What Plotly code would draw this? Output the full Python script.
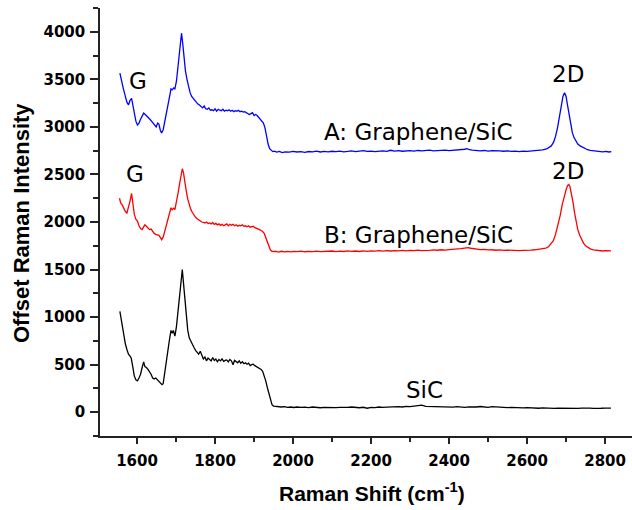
import plotly.graph_objects as go

# Raman spectra (offset) — wavenumber in cm^-1, intensity in counts
sic_x = [1556, 1560, 1565, 1570, 1574, 1578, 1582, 1585, 1589, 1593, 1597, 1601, 1605, 1609, 1613, 1617,
         1620, 1624, 1628, 1632, 1636, 1640, 1644, 1648, 1652, 1656, 1660, 1664, 1667, 1671, 1675, 1679,
         1683, 1687, 1690, 1693, 1697, 1701, 1705, 1709, 1713, 1716, 1719, 1722, 1726, 1730, 1734, 1738,
         1742, 1746, 1750, 1754, 1758, 1762, 1766, 1770, 1774, 1778, 1782, 1786, 1790, 1794, 1798, 1802,
         1806, 1810, 1814, 1818, 1822, 1826, 1830, 1834, 1838, 1842, 1846, 1850, 1854, 1858, 1862, 1866,
         1870, 1874, 1878, 1882, 1886, 1890, 1894, 1898, 1902, 1906, 1910, 1914, 1918, 1922, 1926, 1930,
         1934, 1938, 1942, 1946, 1950, 1956, 1962, 1970, 1978, 1986, 1994, 2002, 2010, 2020, 2030, 2040,
         2050, 2060, 2070, 2080, 2090, 2100, 2110, 2120, 2130, 2140, 2150, 2160, 2170, 2180, 2190, 2200,
         2210, 2220, 2230, 2240, 2250, 2260, 2270, 2280, 2290, 2300, 2310, 2320, 2330, 2340, 2350, 2360,
         2370, 2380, 2390, 2400, 2410, 2420, 2430, 2440, 2450, 2460, 2470, 2480, 2490, 2500, 2510, 2520,
         2530, 2540, 2550, 2560, 2570, 2580, 2590, 2600, 2610, 2620, 2630, 2640, 2650, 2660, 2670, 2680,
         2690, 2700, 2710, 2720, 2730, 2740, 2750, 2760, 2770, 2780, 2790, 2800, 2810, 2815]
sic_y = [1060, 950, 840, 720, 660, 610, 590, 570, 480, 380, 340, 330, 360, 400, 470, 530,
         480, 470, 450, 430, 400, 360, 350, 360, 340, 330, 310, 290, 300, 420, 560, 650,
         760, 860, 830, 860, 800, 900, 1050, 1200, 1380, 1500, 1360, 1200, 1000, 860, 780, 740,
         700, 680, 650, 630, 610, 640, 600, 560, 580, 540, 570, 555, 540, 575, 545, 560,
         530, 555, 540, 560, 535, 545, 550, 530, 555, 540, 500, 545, 530, 520, 540, 515,
         530, 510, 520, 505, 515, 490, 500, 505, 490, 480, 470, 460, 450, 430, 390, 330,
         260, 190, 120, 80, 65, 60, 62, 55, 58, 52, 55, 50, 55, 50, 53, 48,
         55, 50, 47, 52, 50, 54, 49, 52, 48, 51, 55, 50, 47, 52, 42, 50,
         48, 55, 50, 53, 56, 52, 58, 55, 62, 58, 65, 68, 75, 62, 60, 63,
         58, 60, 55, 57, 54, 58, 55, 50, 56, 52, 55, 60, 55, 52, 58, 55,
         50, 53, 48, 52, 47, 50, 45, 48, 44, 47, 42, 46, 43, 45, 40, 44,
         42, 45, 40, 43, 41, 44, 40, 43, 41, 45, 42, 44, 41, 43]

a_x = [1556, 1560, 1565, 1570, 1574, 1578, 1582, 1586, 1589, 1593, 1597, 1601, 1605, 1609, 1613, 1617,
       1621, 1625, 1629, 1633, 1637, 1641, 1645, 1649, 1653, 1656, 1660, 1663, 1667, 1671, 1675, 1679,
       1683, 1687, 1690, 1694, 1697, 1701, 1705, 1709, 1712, 1714, 1717, 1720, 1724, 1728, 1732, 1736,
       1740, 1744, 1748, 1752, 1756, 1760, 1764, 1768, 1772, 1776, 1780, 1784, 1788, 1792, 1796, 1800,
       1804, 1808, 1812, 1816, 1820, 1824, 1828, 1832, 1836, 1840, 1844, 1848, 1852, 1856, 1860, 1864,
       1868, 1872, 1876, 1880, 1884, 1888, 1892, 1896, 1900, 1904, 1908, 1912, 1916, 1920, 1924, 1928,
       1932, 1936, 1940, 1944, 1948, 1952, 1958, 1965, 1972, 1980, 1990, 2000, 2010, 2020, 2030, 2040,
       2050, 2060, 2070, 2080, 2090, 2100, 2110, 2120, 2130, 2140, 2150, 2160, 2170, 2180, 2190, 2200,
       2210, 2220, 2230, 2240, 2250, 2260, 2270, 2280, 2290, 2300, 2310, 2320, 2330, 2340, 2350, 2360,
       2370, 2380, 2390, 2400, 2410, 2420, 2430, 2440, 2446, 2452, 2460, 2470, 2480, 2490, 2500, 2510,
       2520, 2530, 2540, 2550, 2560, 2570, 2580, 2590, 2600, 2610, 2620, 2630, 2640, 2650, 2656, 2662,
       2668, 2673, 2678, 2683, 2688, 2692, 2696, 2700, 2704, 2708, 2712, 2716, 2720, 2725, 2730, 2736,
       2742, 2748, 2755, 2762, 2770, 2778, 2786, 2794, 2802, 2810, 2816]
a_y = [3565, 3480, 3400, 3320, 3260, 3230, 3280, 3300, 3240, 3130, 3060, 3020, 3040, 3080, 3120, 3145,
       3130, 3115, 3105, 3080, 3060, 3040, 3010, 3000, 3040, 3030, 2960, 2935, 2970, 3050, 3120, 3200,
       3310, 3400, 3390, 3410, 3400, 3480, 3620, 3780, 3900, 3985, 3880, 3720, 3590, 3500, 3420, 3360,
       3320, 3300, 3270, 3250, 3240, 3230, 3215, 3200, 3220, 3190, 3185, 3200, 3175, 3180, 3170, 3190,
       3165, 3185, 3175, 3170, 3185, 3165, 3175, 3170, 3180, 3165, 3175, 3160, 3170, 3165, 3175, 3160,
       3165, 3155, 3160, 3150, 3145, 3130, 3140, 3150, 3120, 3130, 3120, 3100, 3080, 3060, 3040, 2990,
       2900, 2820, 2770, 2750, 2740, 2745, 2735, 2742, 2730, 2738, 2735, 2742, 2736, 2740, 2733, 2741,
       2738, 2745, 2736, 2742, 2738, 2744, 2740, 2746, 2738, 2742, 2748, 2740, 2744, 2750, 2742, 2746,
       2740, 2745, 2748, 2742, 2754, 2746, 2750, 2744, 2748, 2750, 2745, 2752, 2748, 2750, 2755, 2748,
       2752, 2750, 2756, 2750, 2754, 2758, 2755, 2765, 2772, 2760, 2756, 2752, 2748, 2752, 2746, 2750,
       2745, 2748, 2744, 2748, 2742, 2746, 2740, 2745, 2742, 2746, 2748, 2752, 2758, 2768, 2780, 2800,
       2840, 2900, 2990, 3100, 3230, 3320, 3360, 3320, 3220, 3110, 3010, 2940, 2890, 2850, 2820, 2800,
       2785, 2770, 2760, 2752, 2748, 2745, 2742, 2738, 2742, 2736, 2740]

b_x = [1555, 1558, 1562, 1566, 1570, 1574, 1578, 1582, 1586, 1589, 1593, 1597, 1601, 1605, 1609, 1613,
       1617, 1620, 1624, 1628, 1632, 1636, 1640, 1644, 1648, 1652, 1656, 1660, 1663, 1667, 1671, 1675,
       1679, 1683, 1687, 1690, 1694, 1697, 1701, 1705, 1709, 1713, 1716, 1719, 1722, 1726, 1730, 1734,
       1738, 1742, 1746, 1750, 1754, 1758, 1762, 1766, 1770, 1774, 1778, 1782, 1786, 1790, 1794, 1798,
       1802, 1806, 1810, 1814, 1818, 1822, 1826, 1830, 1834, 1838, 1842, 1846, 1850, 1854, 1858, 1862,
       1866, 1870, 1874, 1878, 1882, 1886, 1890, 1894, 1898, 1902, 1906, 1910, 1914, 1918, 1922, 1926,
       1930, 1934, 1938, 1942, 1946, 1950, 1956, 1963, 1970, 1978, 1986, 1994, 2002, 2010, 2020, 2030,
       2040, 2050, 2060, 2070, 2080, 2090, 2100, 2110, 2120, 2130, 2140, 2150, 2160, 2170, 2180, 2190,
       2200, 2210, 2220, 2230, 2240, 2250, 2260, 2270, 2280, 2290, 2300, 2310, 2320, 2330, 2340, 2350,
       2360, 2370, 2380, 2390, 2400, 2410, 2420, 2430, 2440, 2448, 2456, 2464, 2472, 2480, 2490, 2500,
       2510, 2520, 2530, 2540, 2550, 2560, 2570, 2580, 2590, 2600, 2610, 2620, 2630, 2640, 2648, 2655,
       2661, 2667, 2673, 2679, 2685, 2690, 2695, 2700, 2704, 2707, 2710, 2714, 2718, 2722, 2726, 2730,
       2735, 2740, 2745, 2750, 2756, 2762, 2770, 2778, 2786, 2794, 2802, 2810, 2815]
b_y = [2250, 2200, 2180, 2140, 2110, 2095, 2150, 2220, 2300, 2200, 2080, 2030, 2010, 1960, 1930, 1920,
       1950, 1970, 1955, 1940, 1920, 1925, 1900, 1880, 1870, 1865, 1860, 1835, 1814, 1840, 1900, 1960,
       2020, 2080, 2150, 2130, 2145, 2130, 2200, 2300, 2400, 2480, 2560, 2520, 2420, 2330, 2240, 2170,
       2130, 2100, 2070, 2050, 2035, 2020, 2010, 2000, 1995, 1990, 2000, 1985, 1990, 1980, 1995, 1975,
       1985, 1970, 1980, 1965, 1975, 1960, 1970, 1980, 1960, 1975, 1965, 1975, 1960, 1970, 1955, 1965,
       1960, 1970, 1955, 1960, 1950, 1960, 1945, 1950, 1955, 1940, 1935, 1930, 1920, 1910, 1900, 1880,
       1840, 1790, 1740, 1705, 1692, 1688, 1690, 1684, 1692, 1686, 1690, 1685, 1692, 1688, 1693, 1687,
       1692, 1689, 1694, 1688, 1693, 1690, 1695, 1689, 1694, 1690, 1696, 1691, 1695, 1690, 1696, 1692,
       1697, 1693, 1698, 1694, 1699, 1695, 1700, 1696, 1701, 1697, 1702, 1698, 1704, 1700, 1705, 1702,
       1706, 1703, 1708, 1705, 1710, 1712, 1716, 1720, 1726, 1730, 1724, 1718, 1714, 1710, 1712, 1706,
       1708, 1703, 1706, 1701, 1704, 1700, 1703, 1699, 1702, 1700, 1705, 1708, 1712, 1718, 1726, 1740,
       1765, 1800, 1870, 1960, 2070, 2180, 2270, 2340, 2385, 2395, 2370, 2300, 2200, 2090, 2000, 1920,
       1860, 1810, 1775, 1750, 1730, 1718, 1708, 1702, 1700, 1695, 1698, 1693, 1696]

x_ticks = [1600, 1800, 2000, 2200, 2400, 2600, 2800]
y_ticks = [0, 500, 1000, 1500, 2000, 2500, 3000, 3500, 4000]

# Peak / sample labels: (text, x, y)
labels = [
    ("G", 1603, 3480),
    ("G", 1596, 2500),
    ("2D", 2706, 3560),
    ("2D", 2706, 2535),
    ("A: Graphene/SiC", 2322, 2950),
    ("B: Graphene/SiC", 2322, 1866),
    ("SiC", 2336, 238),
]

W, H = 632, 510
ML, MR, MT, MB = 100, 0, 8, 74

fig = go.Figure()
for xs, ys, col in [(sic_x, sic_y, "#000000"), (b_x, b_y, "#ff0000"), (a_x, a_y, "#0000ff")]:
    fig.add_trace(go.Scatter(x=xs, y=ys, mode="lines",
                             line=dict(color=col, width=1.3), showlegend=False))

label_font = dict(family="DejaVu Sans, sans-serif", size=23, color="#000000")
for text, lx, ly in labels:
    fig.add_annotation(x=lx, y=ly, xref="x", yref="y", text=text, showarrow=False,
                       font=label_font, xanchor="center", yanchor="middle")

title_font = dict(family="Liberation Sans, Arial, sans-serif", size=21, color="#000000", weight="bold")
pw = W - ML - MR
ph = H - MT - MB
fig.add_annotation(xref="paper", yref="paper", x=(372 - ML) / pw, y=(H - MB - 492) / ph,
                   text="Raman Shift (cm<sup>-1</sup>)", showarrow=False, font=title_font,
                   xanchor="center", yanchor="middle")
fig.add_annotation(xref="paper", yref="paper", x=(22 - ML) / pw, y=(H - MB - 223) / ph,
                   text="Offset Raman Intensity", showarrow=False,
                   font=dict(title_font, size=22),
                   textangle=-90, xanchor="center", yanchor="middle")

tick_font = dict(family="DejaVu Sans, sans-serif", size=15, color="#000000", weight="bold")
fig.update_xaxes(range=[1505, 2869], tickvals=x_ticks, ticktext=[str(v) for v in x_ticks],
                 ticks="outside", ticklen=6, tickwidth=1.5, tickcolor="#222",
                 minor=dict(dtick=100, tick0=1500, ticks="outside", ticklen=4, tickwidth=1.5, tickcolor="#222"),
                 showline=True, linewidth=1.5, linecolor="#222", showgrid=False, zeroline=False,
                 tickfont=tick_font, ticklabelstandoff=4)
fig.update_yaxes(range=[-250, 4250], tickvals=y_ticks, ticktext=[str(v) for v in y_ticks],
                 ticks="outside", ticklen=8, tickwidth=1.5, tickcolor="#222",
                 minor=dict(dtick=250, tick0=0, ticks="outside", ticklen=5, tickwidth=1.5, tickcolor="#222"),
                 showline=True, linewidth=1.5, linecolor="#222", showgrid=False, zeroline=False,
                 tickfont=tick_font, ticklabelstandoff=2)
fig.update_layout(width=W, height=H, margin=dict(l=ML, r=MR, t=MT, b=MB),
                  plot_bgcolor="white", paper_bgcolor="white")

fig.write_html("out.html")
